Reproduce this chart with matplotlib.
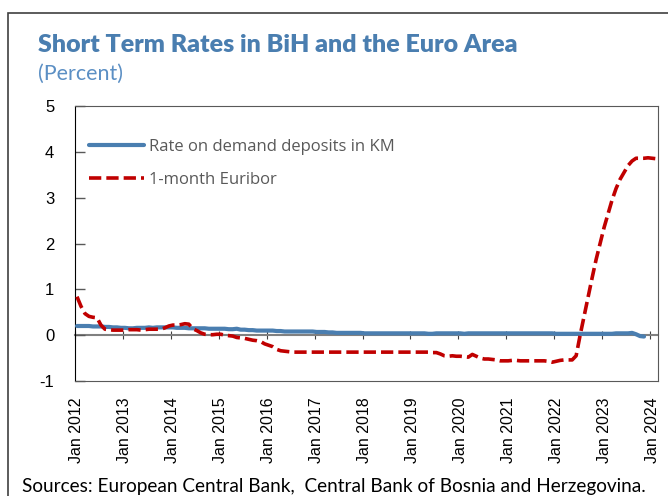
import numpy as np
import matplotlib
matplotlib.use("Agg")
import matplotlib.pyplot as plt
from matplotlib.patches import Rectangle

plt.rcParams["axes.unicode_minus"] = False

# monthly data, Jan 2012 - Feb 2024
euribor = [0.84, 0.63, 0.47, 0.41, 0.39, 0.38, 0.22, 0.13, 0.12, 0.11, 0.11, 0.11,
           0.11, 0.12, 0.12, 0.12, 0.11, 0.12, 0.13, 0.13, 0.13, 0.13, 0.16, 0.20,
           0.22, 0.22, 0.23, 0.25, 0.24, 0.14, 0.10, 0.05, 0.02, 0.01, 0.01, 0.02,
           0.02, 0.00, -0.01, -0.02, -0.05, -0.06, -0.07, -0.09, -0.11, -0.12, -0.14, -0.19,
           -0.22, -0.25, -0.31, -0.34, -0.35, -0.36, -0.37, -0.37, -0.37, -0.37, -0.37, -0.37,
           -0.37, -0.37, -0.37, -0.37, -0.37, -0.37, -0.37, -0.37, -0.37, -0.37, -0.37, -0.37,
           -0.37, -0.37, -0.37, -0.37, -0.37, -0.37, -0.37, -0.37, -0.37, -0.37, -0.37, -0.37,
           -0.37, -0.37, -0.37, -0.37, -0.37, -0.38, -0.38, -0.41, -0.45, -0.46, -0.45, -0.46,
           -0.46, -0.47, -0.48, -0.42, -0.46, -0.50, -0.52, -0.52, -0.53, -0.54, -0.56, -0.56,
           -0.56, -0.55, -0.55, -0.56, -0.56, -0.56, -0.56, -0.56, -0.56, -0.56, -0.57, -0.59,
           -0.57, -0.55, -0.54, -0.54, -0.54, -0.45, 0.00, 0.42, 0.85, 1.25, 1.65, 2.00,
           2.35, 2.65, 2.95, 3.20, 3.40, 3.55, 3.70, 3.80, 3.86, 3.86, 3.86, 3.87,
           3.86, 3.85]

# demand deposits in KM, Jan 2012 - Nov 2023
deposits = [0.20, 0.20, 0.20, 0.20, 0.19, 0.19, 0.19, 0.18, 0.18, 0.17, 0.17, 0.16,
            0.16, 0.15, 0.15, 0.16, 0.16, 0.16, 0.17, 0.16, 0.17, 0.17, 0.17, 0.17,
            0.17, 0.16, 0.16, 0.16, 0.15, 0.15, 0.15, 0.15, 0.15, 0.14, 0.14, 0.14,
            0.14, 0.14, 0.13, 0.13, 0.14, 0.12, 0.12, 0.11, 0.11, 0.10, 0.10, 0.10,
            0.10, 0.10, 0.09, 0.09, 0.08, 0.08, 0.08, 0.08, 0.08, 0.08, 0.08, 0.08,
            0.07, 0.07, 0.07, 0.06, 0.06, 0.05, 0.05, 0.05, 0.05, 0.05, 0.05, 0.05,
            0.04, 0.04, 0.04, 0.04, 0.04, 0.04, 0.04, 0.04, 0.04, 0.04, 0.04, 0.04,
            0.04, 0.04, 0.04, 0.04, 0.03, 0.03, 0.04, 0.04, 0.04, 0.04, 0.04, 0.04,
            0.04, 0.03, 0.04, 0.04, 0.04, 0.04, 0.04, 0.04, 0.04, 0.04, 0.04, 0.04,
            0.04, 0.04, 0.04, 0.04, 0.04, 0.04, 0.04, 0.04, 0.04, 0.04, 0.04, 0.04,
            0.03, 0.03, 0.03, 0.03, 0.03, 0.03, 0.03, 0.03, 0.03, 0.03, 0.03, 0.03,
            0.03, 0.03, 0.03, 0.04, 0.04, 0.04, 0.04, 0.05, 0.02, -0.02, -0.03]

years = list(range(2012, 2025))
tick_labels = ["Jan %d" % y for y in years]

n = len(euribor)
x = np.arange(n)
dep = np.full(n, np.nan)
dep[:len(deposits)] = deposits

fig = plt.figure(figsize=(6.68, 4.96), dpi=100)
ax = fig.add_axes([75/668, 1-381/496, 583/668, 275/496])

blue = "#4A7EB0"
red = "#C00000"
ax.plot(x, dep, color=blue, lw=3.0, solid_capstyle="round", label="Rate on demand deposits in KM", zorder=3)
ax.plot(x, euribor, color=red, lw=2.6, ls=(0, (3.4, 1.4)), label="1-month Euribor", zorder=4)

ax.set_xlim(-0.5, n - 0.5)
ax.set_ylim(-1, 5)
ax.set_yticks(range(-1, 6))
ax.tick_params(axis="y", direction="in", length=7, width=1, color="#595959", pad=15,
               labelsize=12, labelcolor="black")
for lab in ax.get_yticklabels():
    lab.set_family("Liberation Sans")

ax.set_xticks(np.arange(0, n, 12))
ax.set_xticklabels(tick_labels, rotation=90, family="Liberation Sans", fontsize=11.5)
ax.tick_params(axis="x", length=0, pad=12)

for side in ["top", "right", "bottom"]:
    ax.spines[side].set_color("#595959")
ax.spines["left"].set_color("black")

# zero axis with year ticks
zero_ax = ax.secondary_xaxis(1/6)
zero_ax.set_xticks(np.arange(-0.5, n, 12))
zero_ax.tick_params(direction="inout", length=6, color="#404040", labelbottom=False, labeltop=False)
zero_ax.spines["bottom"].set_color("#808080")
zero_ax.spines["bottom"].set_linewidth(1.5)
zero_ax.set_xticklabels([])

leg = ax.legend(loc="upper left", bbox_to_anchor=(0.012, 0.905), frameon=False,
                handlelength=3.3, handletextpad=0.3, labelspacing=1.05, borderaxespad=0,
                prop={"family": "Open Sans", "size": 12})
for t in leg.get_texts():
    t.set_color("#595959")

fig.text(38/668, 1-52/496, "Short Term Rates in BiH and the Euro Area", family="Lato",
         fontweight="heavy", fontsize=18, color="#4A7EB0", va="baseline")
fig.text(38/668, 1-80/496, "(Percent)", family="Lato", fontsize=15.5, color="#5B8FC4", va="baseline")
fig.text(22/668, 1-492/496, "Sources: European Central Bank,  Central Bank of Bosnia and Herzegovina.",
         family="Lato", fontsize=13.7, color="black", va="baseline")

fig.patches.append(Rectangle((8/668, -0.05), 1.0, 1-13/496+0.05, transform=fig.transFigure,
                             fill=False, edgecolor="#404040", lw=1.2))

fig.savefig("out.png", dpi=100)
